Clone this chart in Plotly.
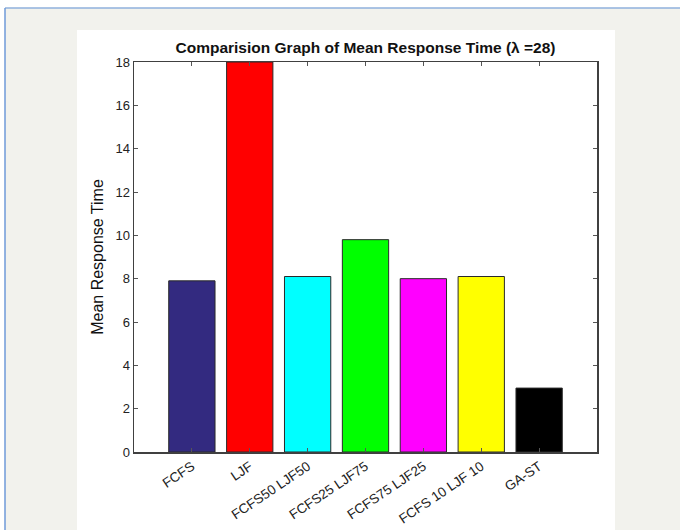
import plotly.graph_objects as go

categories = ["FCFS", "LJF", "FCFS50 LJF50", "FCFS25 LJF75", "FCFS75 LJF25", "FCFS 10 LJF 10", "GA-ST"]
positions = [1, 2, 3, 4, 5, 6, 7]
mean_response = [7.9, 18.0, 8.1, 9.8, 8.0, 8.1, 2.95]
bar_colors = ["#332a80", "#ff0000", "#00ffff", "#00ff00", "#ff00ff", "#ffff00", "#000000"]
y_ticks = [0, 2, 4, 6, 8, 10, 12, 14, 16, 18]

W, H = 680, 530
L, R, T, B = 134, 597, 62, 452
pw, ph = R - L, B - T

def px(x):
    return (x - L) / pw

def py(y):
    return (B - y) / ph

fig = go.Figure()
fig.add_trace(go.Bar(
    x=positions, y=mean_response, width=0.8,
    marker=dict(color=bar_colors, line=dict(color="#2a2a2a", width=1)),
    showlegend=False, hoverinfo="skip",
))

shapes = [
    dict(type="rect", xref="paper", yref="paper", x0=px(5), x1=px(700), y0=py(560), y1=py(8),
         fillcolor="#f2f2ed", line=dict(width=0), layer="below"),
    dict(type="line", xref="paper", yref="paper", x0=px(5), x1=px(700), y0=py(8), y1=py(8),
         line=dict(color="#8fb0dc", width=1.5), layer="below"),
    dict(type="line", xref="paper", yref="paper", x0=px(5), x1=px(5), y0=py(8), y1=py(560),
         line=dict(color="#6f9ad8", width=1.5), layer="below"),
    dict(type="rect", xref="paper", yref="paper", x0=px(77), x1=px(615), y0=py(560), y1=py(30),
         fillcolor="#ffffff", line=dict(width=0), layer="below"),
]

fig.update_layout(
    width=W, height=H,
    margin=dict(l=L, r=W - R, t=T, b=H - B, autoexpand=False),
    paper_bgcolor="#ffffff", plot_bgcolor="#ffffff",
    shapes=shapes,
    font=dict(family="Liberation Sans, Arial, sans-serif", color="#1a1a1a"),
    title=dict(text="<b>Comparision Graph of Mean Response Time (λ =28)</b>",
               x=0.5, xref="paper", xanchor="center",
               y=1 - 48 / H, yref="container", yanchor="middle",
               font=dict(size=15.5, color="#111111")),
    bargap=0.2,
    xaxis=dict(
        range=[0, 8], tickmode="array", tickvals=positions, ticktext=categories,
        tickangle=-34, tickfont=dict(size=13.5, color="#222222"),
        ticks="inside", ticklen=4, tickcolor="#555555", mirror="ticks",
        showline=True, linecolor="#404040", linewidth=1.5, showgrid=False, zeroline=False,
        fixedrange=True,
    ),
    yaxis=dict(
        range=[0, 18], tickmode="array", tickvals=y_ticks,
        tickfont=dict(size=13, color="#222222"),
        ticks="inside", ticklen=4, tickcolor="#555555", mirror="ticks",
        showline=True, linecolor="#404040", linewidth=1.5, showgrid=False, zeroline=False,
        title=dict(text="Mean Response Time", font=dict(size=16, color="#111111"), standoff=8),
        fixedrange=True,
    ),
)

fig.write_html("out.html", config={"displayModeBar": False, "staticPlot": True},
               post_script="document.body.style.margin='0';document.body.style.overflow='hidden';")
